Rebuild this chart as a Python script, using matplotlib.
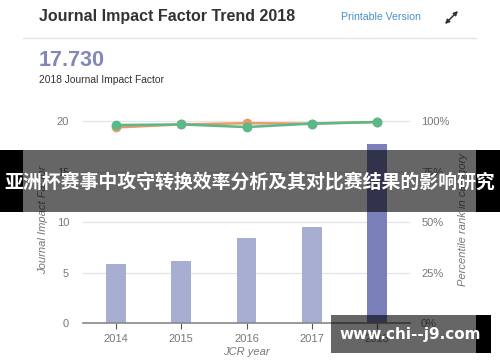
import matplotlib
matplotlib.use("Agg")
import matplotlib.pyplot as plt
from matplotlib.patches import Rectangle, FancyArrowPatch

plt.rcParams['font.family'] = ['Liberation Sans', 'DejaVu Sans']

years = ['2014', '2015', '2016', '2017', '2018']
jif = [5.8, 6.15, 8.4, 9.5, 17.73]
pct_green = [98.0, 98.3, 97.0, 98.7, 99.5]
pct_orange = [96.8, 98.3, 98.9, 98.7, 99.5]
bar_colors = ['#a7aed2', '#a7aed2', '#a7aed2', '#a7aed2', '#7b80bb']

fig = plt.figure(figsize=(5.0, 3.62), dpi=100)
fig.patch.set_facecolor('white')

ax = fig.add_axes([0.166, 0.1077, 0.654, 0.572])
x = list(range(len(years)))
ax.bar(x, jif, width=0.3, color=bar_colors, zorder=2)
ax.set_xlim(-0.5, 4.5)
ax.set_ylim(0, 20.5)
ax.set_yticks([0, 5, 10, 15, 20])
ax.set_xticks(x)
ax.set_xticklabels(years)
for s in ['top', 'right', 'left']:
    ax.spines[s].set_visible(False)
ax.spines['bottom'].set_color('#888888')
ax.spines['bottom'].set_linewidth(1.2)
ax.grid(axis='y', color='#e6e6e6', linewidth=1, zorder=0)
ax.tick_params(axis='y', length=0, labelsize=8, labelcolor='#777777', pad=10)
ax.tick_params(axis='x', length=4, color='#555555', labelsize=8, labelcolor='#777777', pad=4)
ax.set_ylabel('Journal Impact Factor', fontsize=8, style='italic', color='#777777', labelpad=6)
ax.set_xlabel('JCR year', fontsize=8, style='italic', color='#777777', labelpad=2)

ax2 = ax.twinx()
ax2.set_ylim(0, 102.5)
ax2.set_yticks([0, 25, 50, 75, 100])
ax2.set_yticklabels(['0%', '25%', '50%', '75%', '100%'])
for s in ['top', 'right', 'left', 'bottom']:
    ax2.spines[s].set_visible(False)
ax2.tick_params(axis='y', length=0, labelsize=8, labelcolor='#777777', pad=8)
ax2.set_ylabel('Percentile rank in category', fontsize=8, style='italic', color='#777777', labelpad=6)
ax2.plot(x, pct_orange, color='#e89a6a', marker='o', markersize=6, linewidth=1.8, zorder=3)
ax2.plot(x, pct_green, color='#5bb888', marker='o', markersize=6, linewidth=1.8, zorder=4)

# header
fig.text(39/500, 1-16/362, 'Journal Impact Factor Trend 2018', fontsize=11.5, fontweight='bold',
         color='#333333', va='center', ha='left')
fig.text(341/500, 1-17/362, 'Printable Version', fontsize=7.6, color='#4a90c8', va='center', ha='left')
fig.add_artist(plt.Line2D([23/500, 476/500], [1-38/362, 1-38/362], color='#e4e4e4', linewidth=1))
# expand icon (double-headed diagonal arrow)
fig.add_artist(FancyArrowPatch((445/500, 1-24/362), (458/500, 1-11/362),
               transform=fig.transFigure, arrowstyle='<|-|>', mutation_scale=6,
               color='#333333', linewidth=1.1, shrinkA=0, shrinkB=0))
fig.text(39/500, 1-61/362, '17.730', fontsize=15.5, fontweight='bold', color='#8088b8', va='center', ha='left')
fig.text(39/500, 1-80/362, '2018 Journal Impact Factor', fontsize=7.4, color='#333333', va='center', ha='left')

# overlay band
fig.add_artist(Rectangle((0, 1-212/362), 1, 62/362, transform=fig.transFigure,
                         facecolor='black', alpha=0.6, edgecolor='none', zorder=10))
fig.add_artist(Rectangle((0, 1-212/362), 23/500, 62/362, transform=fig.transFigure,
                         facecolor='black', edgecolor='none', zorder=11))
fig.add_artist(Rectangle((476/500, 1-212/362), 24/500, 62/362, transform=fig.transFigure,
                         facecolor='black', edgecolor='none', zorder=11))
fig.text(0.5, 1-182/362, '亚洲杯赛事中攻守转换效率分析及其对比赛结果的影响研究', fontsize=13.6,
         fontweight='bold', color='white', ha='center', va='center', zorder=12,
         family=['Noto Sans CJK SC', 'DejaVu Sans'])

# watermark
fig.add_artist(Rectangle((331/500, 1-353/362), 145/500, 38/362, transform=fig.transFigure,
                         facecolor='black', alpha=0.6, edgecolor='none', zorder=10))
fig.add_artist(Rectangle((476/500, 1-353/362), 15/500, 38/362, transform=fig.transFigure,
                         facecolor='black', edgecolor='none', zorder=11))
fig.text(410/500, 1-334/362, 'www.chi--j9.com', fontsize=11, fontweight='bold', color='white',
         ha='center', va='center', zorder=12, family=['DejaVu Sans'])

fig.savefig('out.png', dpi=100)
